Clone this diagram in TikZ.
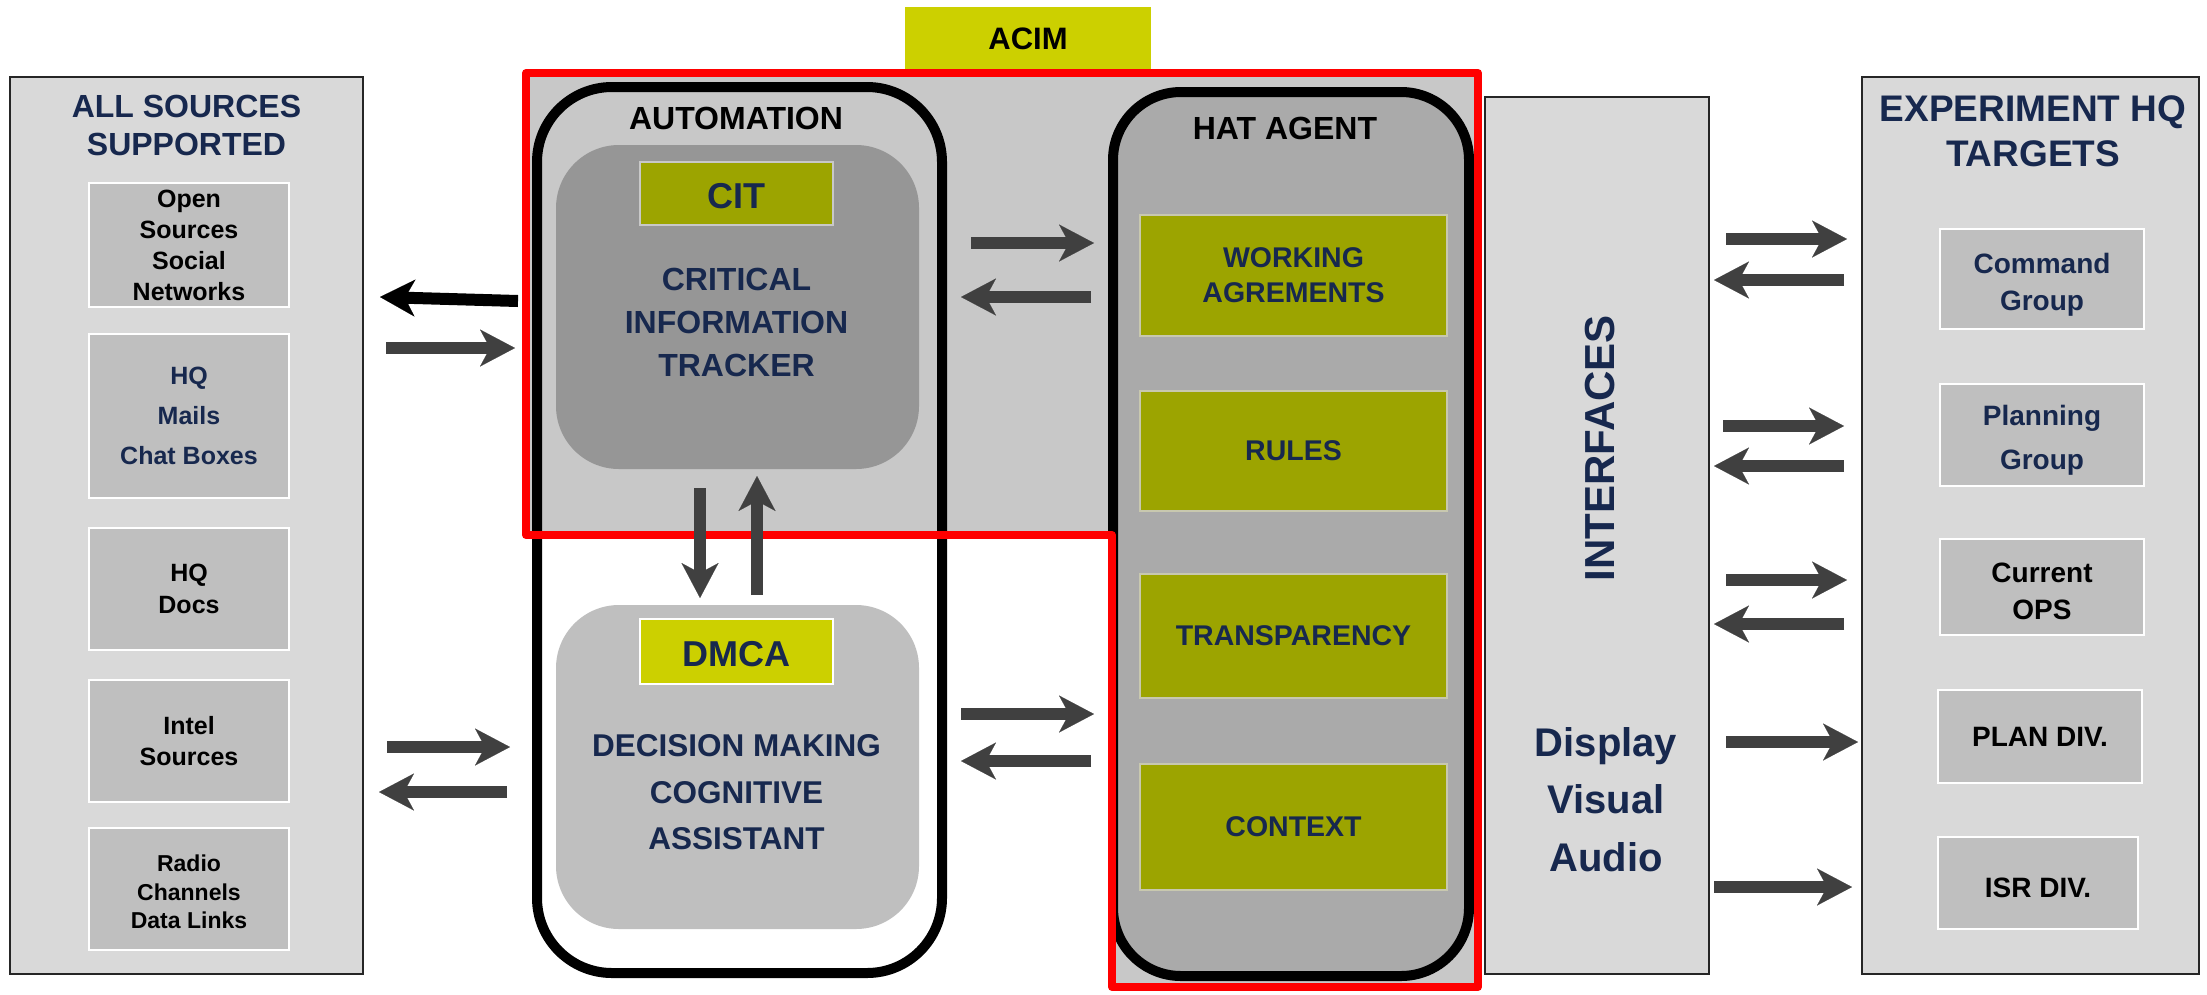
\documentclass[tikz,border=0pt]{standalone}
\usepackage{fontspec}
\setmainfont{Liberation Sans}
\usetikzlibrary{arrows.meta}
\definecolor{navy}{RGB}{23,40,78}
\definecolor{panelgray}{RGB}{217,217,217}
\definecolor{boxgray}{RGB}{191,191,191}
\definecolor{regiongray}{RGB}{200,200,200}
\definecolor{citgray}{RGB}{150,150,150}
\definecolor{hatgray}{RGB}{170,170,170}
\definecolor{olivegreen}{RGB}{156,164,0}
\definecolor{limegreen}{RGB}{204,208,0}
\definecolor{arrowgray}{RGB}{64,64,64}
\definecolor{paleborder}{RGB}{200,200,175}
\newcommand\fsz[2]{\fontsize{#1}{#2}\selectfont}
\tikzset{
  panel/.style={draw=black!85, line width=2pt, fill=panelgray, inner sep=0pt},
  srcbox/.style={draw=white, line width=2pt, fill=boxgray, inner sep=0pt, align=center, font=\bfseries},
  greenbox/.style={draw=paleborder, line width=2pt, fill=olivegreen, text=navy, align=center, inner sep=0pt, font=\bfseries\fsz{28.5}{35}},
  label/.style={align=center, inner sep=0pt, font=\bfseries},
  arr/.style={line width=12pt, draw=arrowgray, -{Stealth[length=35pt,width=37pt,inset=10pt,line width=0.1pt]}},
  blackarr/.style={arr, draw=black},
}
\begin{document}
\begin{tikzpicture}[x=1pt,y=-1pt]
\useasboundingbox (0,0) rectangle (2207,994);

% left panel
\node[panel, minimum width=353pt, minimum height=897pt] (left) at (186.5,525.5) {};
\node[label, text=navy, font=\bfseries\fsz{32}{38}] (lefttitle) at (186.5,125) {ALL SOURCES\\SUPPORTED};
\node[srcbox, minimum width=200pt, minimum height=124pt, font=\bfseries\fsz{25}{31}] (open) at (189,245) {Open\\Sources\\Social\\Networks};
\node[srcbox, minimum width=200pt, minimum height=164pt, text=navy, font=\bfseries\fsz{25}{40}] (mails) at (189,416) {HQ\\Mails\\Chat Boxes};
\node[srcbox, minimum width=200pt, minimum height=122pt, font=\bfseries\fsz{25}{32}] (docs) at (189,589) {HQ\\Docs};
\node[srcbox, minimum width=200pt, minimum height=122pt, font=\bfseries\fsz{25}{31}] (intel) at (189,741) {Intel\\Sources};
\node[srcbox, minimum width=200pt, minimum height=122pt] (radio) at (189,889) {};
\node[label, font=\bfseries\fsz{23}{28.5}] (radiotext) at (189,892) {Radio\\Channels\\Data Links};

% ACIM
\node[fill=limegreen, minimum width=246pt, minimum height=63pt, inner sep=0pt, font=\bfseries\fsz{31}{36}] (acim) at (1028,38.5) {ACIM};

% red region fill
\fill[regiongray] (526,73) -- (1478,73) -- (1478,987) -- (1112,987) -- (1112,535) -- (526,535) -- cycle;

% automation
\node[draw=black, line width=10pt, rounded corners=75pt, minimum width=405pt, minimum height=886pt, inner sep=0pt] (auto) at (739.5,530) {};
\node[label, font=\bfseries\fsz{32}{36}] (autotitle) at (736,118) {AUTOMATION};

\node[fill=citgray, rounded corners=63pt, minimum width=363pt, minimum height=324pt, inner sep=0pt] (cit) at (737.5,307) {};
\node[fill=olivegreen, draw=regiongray, line width=2pt, minimum width=193pt, minimum height=63pt, inner sep=0pt] (citlabel) at (736.5,193.5) {};
\node[label, text=navy, font=\bfseries\fsz{36}{40}] (citname) at (736.5,196) {CIT};
\node[label, text=navy, font=\bfseries\fsz{32}{43}] (cittext) at (736.5,322) {CRITICAL\\INFORMATION\\TRACKER};

\node[fill=boxgray, rounded corners=63pt, minimum width=363pt, minimum height=324pt, inner sep=0pt] (dmca) at (737.5,767) {};
\node[fill=limegreen, draw=white, line width=2pt, minimum width=193pt, minimum height=65pt, inner sep=0pt] (dmcalabel) at (736.5,651.5) {};
\node[label, text=navy, font=\bfseries\fsz{36}{40}] (dmcaname) at (736.5,654) {DMCA};
\node[label, text=navy, font=\bfseries\fsz{31.5}{46.5}] (dmcatext) at (736.5,792.5) {DECISION MAKING\\COGNITIVE\\ASSISTANT};

% HAT agent
\node[draw=black, line width=10pt, fill=hatgray, rounded corners=68pt, minimum width=356pt, minimum height=884pt, inner sep=0pt] (hat) at (1291,534) {};
\node[label, font=\bfseries\fsz{32}{36}] (hattitle) at (1285,128) {HAT AGENT};
\node[greenbox, minimum width=307pt, minimum height=121pt] (wa) at (1293.5,275.5) {WORKING\\AGREMENTS};
\node[greenbox, minimum width=307pt, minimum height=120pt] (rules) at (1293.5,451) {RULES};
\node[greenbox, minimum width=307pt, minimum height=124pt] (transp) at (1293.5,636) {TRANSPARENCY};
\node[greenbox, minimum width=307pt, minimum height=126pt] (context) at (1293.5,827) {CONTEXT};

% red outline
\draw[red, line width=8pt, line join=round] (526,73) -- (1478,73) -- (1478,987) -- (1112,987) -- (1112,535) -- (526,535) -- cycle;

% interfaces
\node[panel, minimum width=224pt, minimum height=877pt] (intf) at (1597,535.5) {};
\node[label, text=navy, rotate=90, font=\bfseries\fsz{42}{46}] (intftitle) at (1600,448) {INTERFACES};
\node[label, text=navy, font=\bfseries\fsz{40}{57.5}] (dva) at (1606,799.5) {Display\\Visual\\Audio};

% right panel
\node[panel, minimum width=337pt, minimum height=897pt] (right) at (2030.5,525.5) {};
\node[label, text=navy, font=\bfseries\fsz{37}{45}] (righttitle) at (2033,131) {EXPERIMENT HQ\\TARGETS};
\node[srcbox, minimum width=204pt, minimum height=100pt] (cmd) at (2042,279) {};
\node[label, text=navy, font=\bfseries\fsz{28}{37}] (cmdtext) at (2042,285) {Command\\Group};
\node[srcbox, minimum width=204pt, minimum height=102pt] (plan) at (2042,435) {};
\node[label, text=navy, font=\bfseries\fsz{28}{44}] (plantext) at (2042,440) {Planning\\Group};
\node[srcbox, minimum width=204pt, minimum height=96pt] (cur) at (2042,587) {};
\node[label, font=\bfseries\fsz{28}{37}] (curtext) at (2042,591) {Current\\OPS};
\node[srcbox, minimum width=204pt, minimum height=93pt, font=\bfseries\fsz{28}{34}] (pdiv) at (2040,736.5) {PLAN DIV.};
\node[srcbox, minimum width=200pt, minimum height=92pt] (isr) at (2038,883) {};
\node[label, font=\bfseries\fsz{28}{34}] (isrtext) at (2038,888) {ISR DIV.};

% arrow end points
\coordinate (l1s) at (518,301); \coordinate (l1e) at (380,297);
\coordinate (l2s) at (386,348); \coordinate (l2e) at (515,348);
\coordinate (l3s) at (387,747); \coordinate (l3e) at (510,747);
\coordinate (l4s) at (507,792); \coordinate (l4e) at (379,792);
\coordinate (c1s) at (971,243); \coordinate (c1e) at (1094,243);
\coordinate (c2s) at (1091,297); \coordinate (c2e) at (961,297);
\coordinate (d1s) at (961,714); \coordinate (d1e) at (1094,714);
\coordinate (d2s) at (1091,761); \coordinate (d2e) at (961,761);
\coordinate (v1s) at (700,488); \coordinate (v1e) at (700,598);
\coordinate (v2s) at (757,595); \coordinate (v2e) at (757,476);
\coordinate (r1s) at (1726,239); \coordinate (r1e) at (1847,239);
\coordinate (r2s) at (1844,280); \coordinate (r2e) at (1714,280);
\coordinate (r3s) at (1723,426); \coordinate (r3e) at (1844,426);
\coordinate (r4s) at (1844,466); \coordinate (r4e) at (1714,466);
\coordinate (r5s) at (1726,580); \coordinate (r5e) at (1847,580);
\coordinate (r6s) at (1844,624); \coordinate (r6e) at (1714,624);
\coordinate (r7s) at (1726,742); \coordinate (r7e) at (1858,742);
\coordinate (r8s) at (1714,887); \coordinate (r8e) at (1852,887);

\draw[blackarr] (l1s) -- (l1e);
\draw[arr] (l2s) -- (l2e);
\draw[arr] (l3s) -- (l3e);
\draw[arr] (l4s) -- (l4e);
\draw[arr] (c1s) -- (c1e);
\draw[arr] (c2s) -- (c2e);
\draw[arr] (d1s) -- (d1e);
\draw[arr] (d2s) -- (d2e);
\draw[arr] (v1s) -- (v1e);
\draw[arr] (v2s) -- (v2e);
\draw[arr] (r1s) -- (r1e);
\draw[arr] (r2s) -- (r2e);
\draw[arr] (r3s) -- (r3e);
\draw[arr] (r4s) -- (r4e);
\draw[arr] (r5s) -- (r5e);
\draw[arr] (r6s) -- (r6e);
\draw[arr] (r7s) -- (r7e);
\draw[arr] (r8s) -- (r8e);
\end{tikzpicture}
\end{document}
